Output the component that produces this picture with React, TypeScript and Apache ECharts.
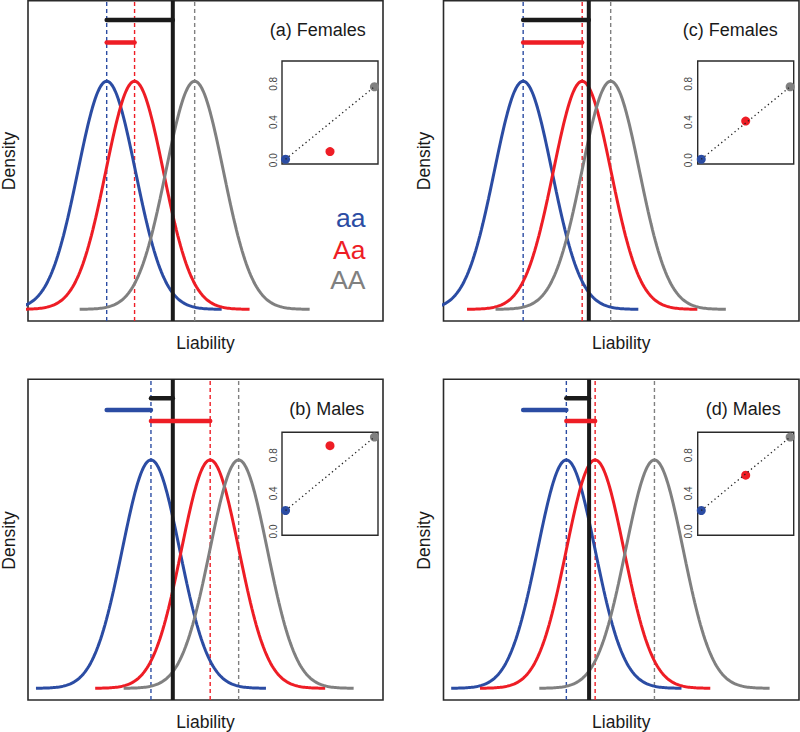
import React, { useEffect, useRef } from "react";
import * as echarts from "echarts";

// ---------- data ----------
const genotypes = ["aa", "Aa", "AA"];
const genotypeColors = ["#2B4CA3", "#EE1D25", "#808080"];
const panelLabels = ["(a) Females", "(b) Males", "(c) Females", "(d) Males"];

// means of the liability distributions (sd = 1) per panel, order aa, Aa, AA
const meansA = [0, 0.97, 3.06];
const meansB = [1.54, 3.6, 4.59];
const meansC = [0.03, 2.08, 3.07];
const meansD = [1.53, 2.53, 4.59];
const thresholds = [2.3, 2.3, 2.31, 2.32];

// inset: proportion affected per genotype (x = 0,1,2 copies of A)
const insetX = [0, 1, 2];
const penetranceA = [0.01, 0.09, 0.77];
const penetranceB = [0.22, 0.9, 0.99];
const penetranceC = [0.01, 0.41, 0.77];
const penetranceD = [0.22, 0.59, 0.99];
const insetTicks = [0, 0.4, 0.8];

const allMeans = [meansA, meansB, meansC, meansD];
const allPenetrance = [penetranceA, penetranceB, penetranceC, penetranceD];
const isMale = [false, true, false, true];

// ---------- layout ----------
const FONT = '"Liberation Sans", Arial, Helvetica, sans-serif';
const mainGrids = [
  { left: 28, top: 0.7, width: 355, height: 320.3 },
  { left: 28, top: 379.3, width: 355, height: 320.7 },
  { left: 443.5, top: 0.7, width: 355.5, height: 320.3 },
  { left: 443.5, top: 379.3, width: 355.5, height: 320.7 },
];
const insetGrids = [
  { left: 282, top: 61, width: 96, height: 103 },
  { left: 282, top: 432.3, width: 96, height: 103 },
  { left: 697.7, top: 61, width: 96, height: 103 },
  { left: 697.7, top: 432.3, width: 96, height: 103 },
];
const titlePos = [
  [365.7, 30],
  [364.3, 409],
  [777.7, 30],
  [780.7, 409],
];
const densityPos = [
  [9, 161],
  [9, 540.5],
  [424, 161],
  [424, 540.5],
];
const liabilityPos = [
  [205.5, 343],
  [205.5, 721.5],
  [621.3, 343],
  [621.3, 721.5],
];
const legendPos = { x: 365.5, y: [217.7, 250, 280.3] };

const X_MIN = -2.737;
const X_MAX = 9.611;
const Y_MIN = -0.0204;
const Y_MAX = 0.5398;
// heights (density units) of the effect bars
const barLevelFemale = [0.506, 0.4665];
const barLevelMale = [0.5066, 0.4862, 0.467];

function dnorm(x: number, m: number) {
  return Math.exp(-0.5 * (x - m) * (x - m)) / Math.sqrt(2 * Math.PI);
}
function curve(m: number) {
  const pts: number[][] = [];
  for (let i = 0; i <= 160; i++) {
    const x = m - 4 + (8 * i) / 160;
    pts.push([x, dnorm(x, m)]);
  }
  return pts;
}

function buildOption() {
  const grid: any[] = [];
  const xAxis: any[] = [];
  const yAxis: any[] = [];
  const series: any[] = [];
  const graphic: any[] = [];

  mainGrids.forEach((g, p) => {
    grid.push({
      ...g,
      show: true,
      borderColor: "#2a2a2a",
      borderWidth: 1.6,
      backgroundColor: "transparent",
      containLabel: false,
    });
    xAxis.push({ type: "value", gridIndex: p, min: X_MIN, max: X_MAX, show: false });
    yAxis.push({ type: "value", gridIndex: p, min: Y_MIN, max: Y_MAX, show: false });
  });
  insetGrids.forEach((g, p) => {
    grid.push({
      ...g,
      show: true,
      borderColor: "#2a2a2a",
      borderWidth: 1.4,
      backgroundColor: "transparent",
      containLabel: false,
    });
    xAxis.push({ type: "value", gridIndex: 4 + p, min: -0.08, max: 2.08, show: false });
    yAxis.push({
      type: "value",
      gridIndex: 4 + p,
      min: -0.04,
      max: 1.04,
      axisLine: { show: false },
      axisTick: { show: false },
      splitLine: { show: false },
      axisLabel: {
        customValues: insetTicks,
        rotate: 90,
        margin: 4,
        fontSize: 10,
        color: "#444",
        fontFamily: FONT,
        formatter: (v: number) => v.toFixed(1),
      },
    });
  });

  allMeans.forEach((means, p) => {
    const T = thresholds[p];
    // dashed mean lines
    means.forEach((m, gi) => {
      series.push({
        type: "line",
        xAxisIndex: p,
        yAxisIndex: p,
        data: [
          [m, Y_MIN],
          [m, Y_MAX],
        ],
        showSymbol: false,
        silent: true,
        z: 2,
        lineStyle: { color: genotypeColors[gi], width: 1.4, type: [4, 3] },
      });
    });
    // density curves
    means.forEach((m, gi) => {
      series.push({
        type: "line",
        name: genotypes[gi],
        xAxisIndex: p,
        yAxisIndex: p,
        data: curve(m),
        showSymbol: false,
        smooth: false,
        silent: true,
        z: 3,
        lineStyle: { color: genotypeColors[gi], width: 3 },
      });
    });
    // threshold
    series.push({
      type: "line",
      xAxisIndex: p,
      yAxisIndex: p,
      data: [
        [T, Y_MIN],
        [T, Y_MAX],
      ],
      showSymbol: false,
      silent: true,
      z: 4,
      lineStyle: { color: "#1a1a1a", width: 4 },
    });
    // effect bars
    const bars: { from: number; to: number; y: number; color: string }[] = [];
    if (!isMale[p]) {
      bars.push({ from: means[0], to: T, y: barLevelFemale[0], color: "#1a1a1a" });
      bars.push({ from: means[0], to: means[1], y: barLevelFemale[1], color: genotypeColors[1] });
    } else {
      const femaleAa = allMeans[p - 1][0];
      bars.push({ from: means[0], to: T, y: barLevelMale[0], color: "#1a1a1a" });
      bars.push({ from: femaleAa, to: means[0], y: barLevelMale[1], color: genotypeColors[0] });
      bars.push({ from: means[0], to: means[1], y: barLevelMale[2], color: genotypeColors[1] });
    }
    bars.forEach((b) => {
      series.push({
        type: "line",
        xAxisIndex: p,
        yAxisIndex: p,
        data: [
          [b.from, b.y],
          [b.to, b.y],
        ],
        showSymbol: false,
        silent: true,
        z: 5,
        lineStyle: { color: b.color, width: 4.5, cap: "round" },
      });
    });

    // inset
    const pen = allPenetrance[p];
    series.push({
      type: "scatter",
      xAxisIndex: 4 + p,
      yAxisIndex: 4 + p,
      data: insetX.map((x, i) => ({
        value: [x, pen[i]],
        itemStyle: { color: genotypeColors[i], opacity: 1 },
      })),
      symbol: "circle",
      symbolSize: 9,
      silent: true,
      z: 5,
    });
    series.push({
      type: "line",
      xAxisIndex: 4 + p,
      yAxisIndex: 4 + p,
      data: [
        [insetX[0], pen[0]],
        [insetX[2], pen[2]],
      ],
      showSymbol: false,
      silent: true,
      z: 6,
      lineStyle: { color: "#222", width: 1.3, type: [1.3, 3] },
    });

    // texts
    graphic.push({
      type: "text",
      x: titlePos[p][0],
      y: titlePos[p][1],
      style: {
        text: panelLabels[p],
        font: `18px ${FONT}`,
        fill: "#1a1a1a",
        align: "right",
        verticalAlign: "middle",
      },
    });
    graphic.push({
      type: "text",
      x: densityPos[p][0],
      y: densityPos[p][1],
      rotation: Math.PI / 2,
      style: {
        text: "Density",
        font: `17.5px ${FONT}`,
        fill: "#1a1a1a",
        align: "center",
        verticalAlign: "middle",
      },
    });
    graphic.push({
      type: "text",
      x: liabilityPos[p][0],
      y: liabilityPos[p][1],
      style: {
        text: "Liability",
        font: `17.5px ${FONT}`,
        fill: "#1a1a1a",
        align: "center",
        verticalAlign: "middle",
      },
    });
  });

  genotypes.forEach((g, i) => {
    graphic.push({
      type: "text",
      x: legendPos.x,
      y: legendPos.y[i],
      style: {
        text: g,
        font: `26.5px ${FONT}`,
        fill: genotypeColors[i],
        align: "right",
        verticalAlign: "middle",
      },
    });
  });

  return {
    animation: false,
    backgroundColor: "#ffffff",
    grid,
    xAxis,
    yAxis,
    series,
    graphic,
  };
}

export default function App() {
  const ref = useRef<HTMLDivElement>(null);
  useEffect(() => {
    if (!ref.current) return;
    const chart = echarts.init(ref.current, undefined, { renderer: "svg" });
    chart.setOption(buildOption() as any);
    return () => chart.dispose();
  }, []);
  return (
    <div
      ref={ref}
      style={{ position: "fixed", left: 0, top: 0, width: 800, height: 732 }}
    />
  );
}
